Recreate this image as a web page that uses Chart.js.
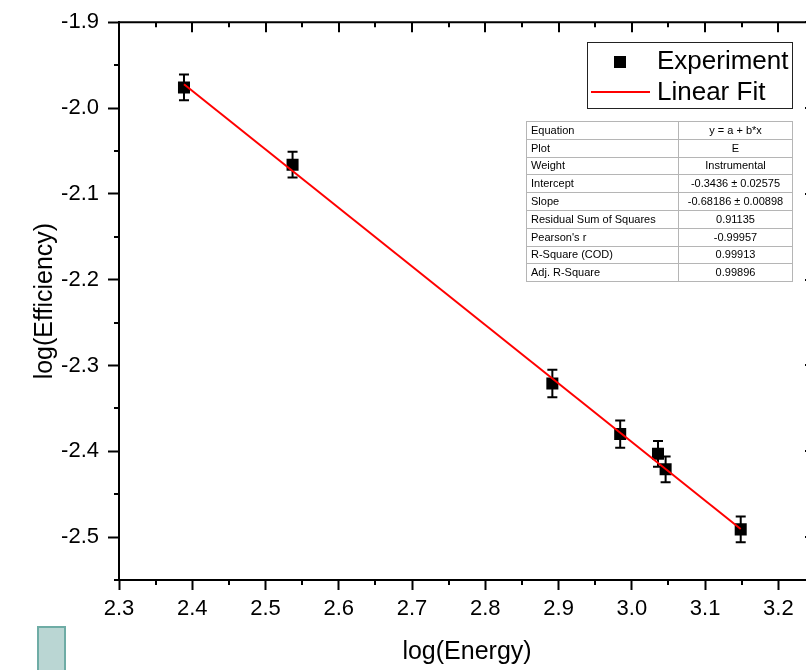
<!DOCTYPE html>
<html>
<head>
<meta charset="utf-8">
<script src="https://cdn.jsdelivr.net/npm/chart.js@4.4.1/dist/chart.umd.min.js"></script>
<style>
  html, body { margin: 0; padding: 0; background: #fff; overflow: hidden; }
  #wrap { position: relative; width: 806px; height: 670px; overflow: hidden; }
  #chart { position: absolute; left: 0; top: 0; }
  #fit-table {
    position: absolute; left: 526px; top: 121px;
    border-collapse: collapse; border: 1px solid #444;
    font: 11px "Liberation Sans", Arial, sans-serif; color: #000;
  }
  #fit-table td { height: 16.8px; padding: 0 4px; border: 1px solid #b5b5b5; line-height: 1; }
  #fit-table td:first-child { width: 143px; text-align: left; }
  #fit-table td:last-child { width: 105px; text-align: center; }
  #tab-mark {
    position: absolute; left: 37px; top: 626px; width: 25px; height: 60px;
    background: #bad6d3; border: 2px solid #6eaca5;
  }
</style>
</head>
<body>
<div id="wrap">
  <canvas id="chart" width="830" height="670"></canvas>
  <table id="fit-table"></table>
  <div id="tab-mark"></div>
</div>
<script>
document.addEventListener("DOMContentLoaded", () => {

  // measured points (log10 of gamma energy / efficiency)
  const logEnergy = [2.3887, 2.5369, 2.8915, 2.9841, 3.0357, 3.0461, 3.1486];
  const logEfficiency = [-1.976, -2.066, -2.321, -2.380, -2.403, -2.421, -2.491];
  const errors = [0.015, 0.015, 0.016, 0.016, 0.015, 0.015, 0.015];

  // ends of the fitted line
  const fitX = [2.3887, 3.1486];
  const fitY = [-1.9724, -2.4905];

  const xTicks = [2.3, 2.4, 2.5, 2.6, 2.7, 2.8, 2.9, 3.0, 3.1, 3.2];
  const xMinor = [2.35, 2.45, 2.55, 2.65, 2.75, 2.85, 2.95, 3.05, 3.15, 3.25];
  const yTicks = [-2.5, -2.4, -2.3, -2.2, -2.1, -2.0, -1.9];
  const yMinor = [-2.55, -2.45, -2.35, -2.25, -2.15, -2.05, -1.95];

  const fitRows = [
    ["Equation", "y = a + b*x"],
    ["Plot", "E"],
    ["Weight", "Instrumental"],
    ["Intercept", "-0.3436 ± 0.02575"],
    ["Slope", "-0.68186 ± 0.00898"],
    ["Residual Sum of Squares", "0.91135"],
    ["Pearson's r", "-0.99957"],
    ["R-Square (COD)", "0.99913"],
    ["Adj. R-Square", "0.99896"]
  ];

  const FONT = '"Liberation Sans", Arial, sans-serif';

  const table = document.getElementById("fit-table");
  fitRows.forEach(r => {
    const tr = document.createElement("tr");
    tr.innerHTML = `<td>${r[0]}</td><td>${r[1]}</td>`;
    table.appendChild(tr);
  });

  const errorBars = {
    id: "errorBars",
    beforeDatasetsDraw(chart) {
      const { ctx, scales: { x, y } } = chart;
      ctx.save();
      ctx.strokeStyle = "#000";
      ctx.lineWidth = 2;
      logEnergy.forEach((e, i) => {
        const px = x.getPixelForValue(e);
        const top = y.getPixelForValue(logEfficiency[i] + errors[i]);
        const bot = y.getPixelForValue(logEfficiency[i] - errors[i]);
        ctx.beginPath();
        ctx.moveTo(px, top); ctx.lineTo(px, bot);
        ctx.moveTo(px - 5, top); ctx.lineTo(px + 5, top);
        ctx.moveTo(px - 5, bot); ctx.lineTo(px + 5, bot);
        ctx.stroke();
      });
      ctx.restore();
    }
  };

  // top/right mirror axes with inward ticks, plus minor ticks
  const frame = {
    id: "frame",
    afterDatasetsDraw(chart) {
      const { ctx, chartArea: a, scales: { x, y } } = chart;
      ctx.save();
      ctx.strokeStyle = "#000";
      ctx.lineWidth = 2;
      ctx.beginPath();
      ctx.moveTo(a.left - 1, a.top); ctx.lineTo(a.right + 1, a.top);
      ctx.moveTo(a.right, a.top); ctx.lineTo(a.right, a.bottom);
      xTicks.forEach(v => {
        const px = Math.round(x.getPixelForValue(v));
        ctx.moveTo(px, a.top); ctx.lineTo(px, a.top + 10);
      });
      xMinor.forEach(v => {
        const px = Math.round(x.getPixelForValue(v));
        ctx.moveTo(px, a.top); ctx.lineTo(px, a.top + 5);
        ctx.moveTo(px, a.bottom); ctx.lineTo(px, a.bottom + 5);
      });
      yTicks.forEach(v => {
        const py = Math.round(y.getPixelForValue(v));
        ctx.moveTo(a.right, py); ctx.lineTo(a.right - 10, py);
      });
      yMinor.forEach(v => {
        const py = Math.round(y.getPixelForValue(v));
        ctx.moveTo(a.right, py); ctx.lineTo(a.right - 5, py);
        ctx.moveTo(a.left, py); ctx.lineTo(a.left - 5, py);
      });
      ctx.stroke();
      ctx.restore();
    }
  };

  const legendBox = {
    id: "legendBox",
    afterDraw(chart) {
      const ctx = chart.ctx;
      const [fit, exp] = chart.data.datasets;
      ctx.save();
      ctx.strokeStyle = "#222";
      ctx.lineWidth = 1;
      ctx.strokeRect(587.5, 42.5, 205, 66);
      ctx.fillStyle = "#000";
      ctx.fillRect(614, 56, 12, 12);
      ctx.strokeStyle = fit.borderColor;
      ctx.lineWidth = 2;
      ctx.beginPath();
      ctx.moveTo(591, 92); ctx.lineTo(650, 92);
      ctx.stroke();
      ctx.fillStyle = "#000";
      ctx.font = `26px ${FONT}`;
      ctx.textBaseline = "middle";
      ctx.fillText(exp.label, 657, 62);
      ctx.fillText(fit.label, 657, 93);
      ctx.restore();
    }
  };

  new Chart(document.getElementById("chart"), {
    type: "scatter",
    data: {
      datasets: [
        {
          type: "line",
          label: "Linear Fit",
          data: fitX.map((v, i) => ({ x: v, y: fitY[i] })),
          borderColor: "#ff0000",
          borderWidth: 2,
          pointRadius: 0,
          showLine: true,
          order: 1
        },
        {
          label: "Experiment",
          data: logEnergy.map((v, i) => ({ x: v, y: logEfficiency[i] })),
          pointStyle: "rect",
          pointRadius: 8.5,
          backgroundColor: "#000",
          borderColor: "#000",
          borderWidth: 0,
          order: 2
        }
      ]
    },
    options: {
      responsive: false,
      animation: false,
      layout: { padding: { left: 0, top: 20, right: 15, bottom: 0 } },
      plugins: { legend: { display: false }, tooltip: { enabled: false } },
      scales: {
        x: {
          type: "linear",
          min: 2.3,
          max: 3.25,
          afterFit: s => { s.height = 90; },
          afterBuildTicks: s => { s.ticks = xTicks.map(v => ({ value: v })); },
          grid: { drawOnChartArea: false, drawTicks: true, tickLength: 10, tickWidth: 2, color: "#000" },
          border: { display: true, width: 2, color: "#000" },
          ticks: {
            color: "#000",
            font: { family: FONT, size: 22 },
            padding: 6,
            maxRotation: 0,
            callback: v => v.toFixed(1)
          },
          title: {
            display: true,
            text: "log(Energy)",
            color: "#000",
            font: { family: FONT, size: 25 },
            padding: { top: 0, bottom: 3 }
          }
        },
        y: {
          type: "linear",
          min: -2.55,
          max: -1.9,
          afterFit: s => { s.width = 119; },
          afterBuildTicks: s => { s.ticks = yTicks.map(v => ({ value: v })); },
          grid: { drawOnChartArea: false, drawTicks: true, tickLength: 11, tickWidth: 2, color: "#000" },
          border: { display: true, width: 2, color: "#000" },
          ticks: {
            color: "#000",
            font: { family: FONT, size: 22 },
            padding: 9,
            callback: v => v.toFixed(1)
          },
          title: {
            display: true,
            text: "log(Efficiency)",
            color: "#000",
            font: { family: FONT, size: 25 },
            padding: { top: 30, bottom: 0 }
          }
        }
      }
    },
    plugins: [errorBars, frame, legendBox]
  });
});
</script>
</body>
</html>
